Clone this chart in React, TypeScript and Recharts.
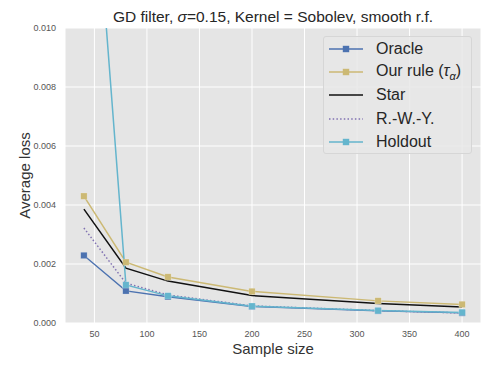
import React from 'react';
import { LineChart, Line, XAxis, YAxis, CartesianGrid, Label } from 'recharts';

const sampleSizes = [40, 80, 120, 200, 320, 400];
const oracle = [0.00229, 0.00109, 0.00089, 0.00056, 0.00041, 0.00034];
const ourRule = [0.0043, 0.00206, 0.00156, 0.00107, 0.00075, 0.00063];
const star = [0.00386, 0.00186, 0.00142, 0.00093, 0.00066, 0.00054];
const rwy = [0.00322, 0.00135, 0.00095, 0.00058, 0.00042, 0.00034];
const holdout = [0.02, 0.00129, 0.00092, 0.00057, 0.00042, 0.00036];

const xTicks = [50, 100, 150, 200, 250, 300, 350, 400];
const yTicks = [0, 0.002, 0.004, 0.006, 0.008, 0.01];

const data = sampleSizes.map((n, i) => ({
  n,
  oracle: oracle[i],
  ourRule: ourRule[i],
  star: star[i],
  rwy: rwy[i],
  holdout: holdout[i],
}));

const C_ORACLE = '#4C72B0';
const C_OUR = '#CCB974';
const C_STAR = '#111111';
const C_RWY = '#8172B2';
const C_HOLD = '#64B5CD';

const FONT = '"Liberation Sans", Arial, sans-serif';

const squareDot = (color: string) => (props: any) => {
  const { cx, cy, index } = props;
  if (cx == null || cy == null) return <g key={`e-${index}`} />;
  return (
    <rect
      key={`d-${index}`}
      x={cx - 3.2}
      y={cy - 3.2}
      width={6.4}
      height={6.4}
      fill={color}
      stroke="#ffffff"
      strokeOpacity={0.35}
      strokeWidth={0.6}
    />
  );
};

const legendItems = [
  { name: 'Oracle', color: C_ORACLE, marker: true, dash: undefined as string | undefined },
  { name: 'Our rule', color: C_OUR, marker: true, dash: undefined, tau: true },
  { name: 'Star', color: C_STAR, marker: false, dash: undefined },
  { name: 'R.-W.-Y.', color: C_RWY, marker: false, dash: '1.5 2.2' },
  { name: 'Holdout', color: C_HOLD, marker: true, dash: undefined },
];

export default function App() {
  return (
    <div style={{ position: 'absolute', left: 0, top: 0, width: 491, height: 368, background: '#fff', fontFamily: FONT }}>
      <LineChart
        width={491}
        height={368}
        data={data}
        margin={{ top: 28, right: 10, bottom: 15, left: 0 }}
        style={{ position: 'absolute', left: 0, top: 0 }}
      >
        <CartesianGrid fill="#E5E5E5" stroke="#ffffff" strokeWidth={1} horizontal vertical />
        <XAxis
          dataKey="n"
          type="number"
          domain={[22, 418]}
          ticks={xTicks}
          allowDataOverflow
          axisLine={false}
          tickLine={false}
          height={30}
          tick={{ fontSize: 9, fill: '#555555', fontFamily: FONT }}
        >
          <Label
            value="Sample size"
            position="insideBottom"
            offset={-1}
            style={{ fontSize: 15, fill: '#333333', fontFamily: FONT }}
          />
        </XAxis>
        <YAxis
          type="number"
          domain={[0, 0.01]}
          ticks={yTicks}
          allowDataOverflow
          axisLine={false}
          tickLine={false}
          width={65}
          tickMargin={3}
          tickFormatter={(v: number) => v.toFixed(3)}
          tick={{ fontSize: 9, fill: '#555555', fontFamily: FONT }}
        >
          <Label
            value="Average loss"
            angle={-90}
            position="insideLeft"
            offset={25}
            style={{ fontSize: 15, fill: '#333333', fontFamily: FONT, textAnchor: 'middle' }}
          />
        </YAxis>
        <Line
          dataKey="oracle"
          stroke={C_ORACLE}
          strokeWidth={1.3}
          dot={squareDot(C_ORACLE)}
          activeDot={false}
          isAnimationActive={false}
        />
        <Line
          dataKey="ourRule"
          stroke={C_OUR}
          strokeWidth={1.5}
          dot={squareDot(C_OUR)}
          activeDot={false}
          isAnimationActive={false}
        />
        <Line
          dataKey="star"
          stroke={C_STAR}
          strokeWidth={1.5}
          dot={false}
          activeDot={false}
          isAnimationActive={false}
        />
        <Line
          dataKey="rwy"
          stroke={C_RWY}
          strokeWidth={1.5}
          strokeDasharray="1.5 2.2"
          dot={false}
          activeDot={false}
          isAnimationActive={false}
        />
        <Line
          dataKey="holdout"
          stroke={C_HOLD}
          strokeWidth={1.5}
          dot={squareDot(C_HOLD)}
          activeDot={false}
          isAnimationActive={false}
        />
      </LineChart>
      <div
        style={{
          position: 'absolute',
          left: 0,
          top: 9,
          width: 546,
          textAlign: 'center',
          fontSize: 15.5,
          lineHeight: '16px',
          color: '#262626',
          whiteSpace: 'nowrap',
        }}
      >
        GD filter, <i>σ</i>=0.15, Kernel = Sobolev, smooth r.f.
      </div>
      <div
        style={{
          position: 'absolute',
          left: 323,
          top: 36,
          width: 149,
          height: 118,
          background: 'rgba(232,232,232,0.85)',
          border: '1px solid #d6d6d6',
          borderRadius: 3,
          boxSizing: 'border-box',
        }}
      >
        {legendItems.map((it, i) => (
          <div
            key={it.name}
            style={{
              position: 'absolute',
              left: 5,
              top: 1 + i * 23.2,
              height: 22,
              display: 'flex',
              alignItems: 'center',
              whiteSpace: 'nowrap',
            }}
          >
            <svg width={34} height={12} style={{ display: 'block' }}>
              <line
                x1={0}
                y1={6}
                x2={34}
                y2={6}
                stroke={it.color}
                strokeWidth={1.5}
                strokeDasharray={it.dash}
              />
              {it.marker && <rect x={13.8} y={2.8} width={6.4} height={6.4} fill={it.color} />}
            </svg>
            <span style={{ marginLeft: 13, fontSize: 16, color: '#262626' }}>
              {it.name}
              {(it as any).tau && (
                <>
                  {' ('}
                  <i>τ</i>
                  <sub style={{ fontSize: 11 }}>
                    <i>α</i>
                  </sub>
                  {')'}
                </>
              )}
            </span>
          </div>
        ))}
      </div>
    </div>
  );
}
